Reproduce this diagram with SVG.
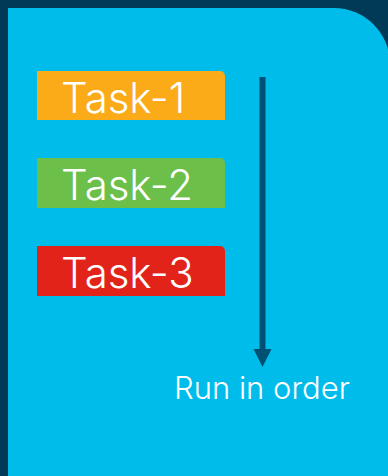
<svg xmlns="http://www.w3.org/2000/svg" width="388" height="476" viewBox="0 0 388 476">
<style>
.task{font-family:Inter,Roboto,"Liberation Sans",sans-serif;font-weight:300;font-size:42px;fill:#fff}
.lbl{font-family:Inter,Roboto,"Liberation Sans",sans-serif;font-weight:300;font-size:31px;fill:#fff}
</style>
<rect x="0" y="0" width="388" height="476" fill="#003a57"/>
<path d="M8,8 H334 A56,56 0 0 1 390,64 V480 H8 Z" fill="#00bceb"/>
<g id="task1"><path d="M37,71 H220 A5,5 0 0 1 225,76 V120 H37 Z" fill="#fbab18"/><text class="task" x="61" y="113">Task-1</text></g>
<g id="task2"><path d="M37,158 H220 A5,5 0 0 1 225,163 V208 H37 Z" fill="#6cc04a"/><text class="task" x="61" y="200">Task-2</text></g>
<g id="task3"><path d="M37,246 H220 A5,5 0 0 1 225,251 V296 H37 Z" fill="#e2231a"/><text class="task" x="61" y="288">Task-3</text></g>
<g id="connectors"><line x1="262.5" y1="77" x2="262.5" y2="349" stroke="#005073" stroke-width="6"/><path d="M253.5,349 H271.5 L262.5,367 Z" fill="#005073"/></g>
<g id="label"><text class="lbl" x="174" y="399">Run in order</text></g>
</svg>
